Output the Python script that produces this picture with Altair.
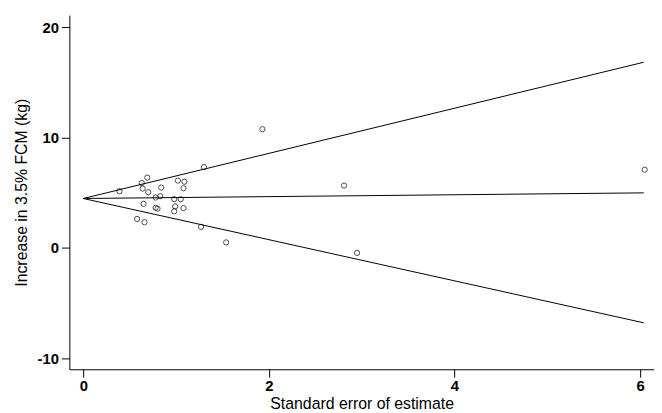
import altair as alt
import pandas as pd

# Study points: standard error (x) and increase in 3.5% FCM (y)
se = [0.39, 0.63, 0.69, 0.64, 0.70, 0.84, 0.83, 0.78, 0.65, 0.78, 0.80,
      0.58, 0.66, 1.02, 1.09, 1.08, 0.98, 1.05, 0.99, 0.98, 1.08, 1.30,
      1.27, 1.54, 1.93, 2.81, 2.95, 6.05]
effect = [5.14, 5.89, 6.37, 5.38, 5.05, 5.47, 4.69, 4.57, 4.00, 3.64, 3.56,
          2.63, 2.33, 6.10, 6.00, 5.41, 4.42, 4.42, 3.76, 3.32, 3.61, 7.32,
          1.91, 0.50, 10.76, 5.65, -0.45, 7.09]

# Funnel lines (pooled estimate and pseudo confidence limits)
line_names = ["upper", "upper", "centre", "centre", "lower", "lower"]
line_x = [0.0, 6.04, 0.0, 6.04, 0.0, 6.04]
line_y = [4.48, 16.83, 4.48, 4.99, 4.48, -6.79]

x_ticks = [0, 2, 4, 6]
y_ticks = [-10, 0, 10, 20]

pts = pd.DataFrame({"se": se, "effect": effect})
lines = pd.DataFrame({"name": line_names, "se": line_x, "effect": line_y})

FONT = "Liberation Sans"
LABEL_EXPR = "replace(datum.label, '\u2212', '-')"

xscale = alt.Scale(domain=[-0.15, 6.15], nice=False, zero=False)
yscale = alt.Scale(domain=[-11.0, 21.1], nice=False, zero=False)

xaxis = alt.Axis(values=x_ticks, format="d", labelExpr=LABEL_EXPR,
                 title="Standard error of estimate",
                 grid=False, domainColor="black", tickColor="black",
                 tickSize=8, labelFontSize=15, titleFontSize=16,
                 labelFont=FONT, titleFont=FONT, labelColor="black",
                 titleColor="black", labelFontWeight="bold",
                 titleFontWeight="normal", labelPadding=1, titlePadding=3)
yaxis = alt.Axis(values=y_ticks, format="d", labelExpr=LABEL_EXPR,
                 title="Increase in 3.5% FCM (kg)",
                 grid=False, domainColor="black", tickColor="black",
                 tickSize=8, labelFontSize=15, titleFontSize=16,
                 labelFont=FONT, titleFont=FONT, labelColor="black",
                 titleColor="black", labelFontWeight="bold",
                 titleFontWeight="normal", labelPadding=3, titlePadding=8)

line_layer = alt.Chart(lines).mark_line(color="black", strokeWidth=1).encode(
    x=alt.X("se:Q", scale=xscale, axis=xaxis),
    y=alt.Y("effect:Q", scale=yscale, axis=yaxis),
    detail="name:N",
)

point_layer = alt.Chart(pts).mark_point(
    shape="circle", filled=False, color="black", size=28, strokeWidth=1
).encode(
    x=alt.X("se:Q", scale=xscale),
    y=alt.Y("effect:Q", scale=yscale),
)

chart = alt.layer(line_layer, point_layer).properties(
    width=591,
    height=358,
    autosize=alt.AutoSizeParams(type="none"),
    padding={"left": 62, "top": 5, "right": 0, "bottom": 42},
    background="white",
).configure_view(stroke=None)

chart.save("out.html", embed_options={"renderer": "svg", "actions": False})
